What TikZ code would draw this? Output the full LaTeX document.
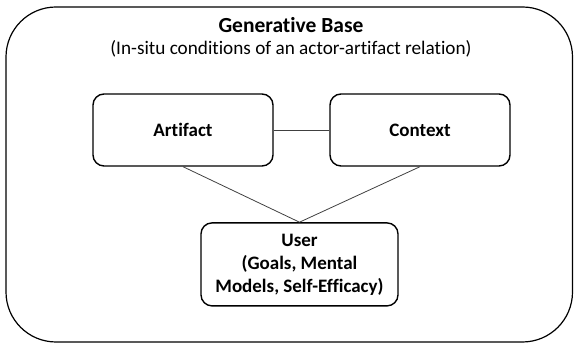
\documentclass[tikz,border=0pt]{standalone}
\usepackage{fontspec}
\setmainfont{Carlito}[Ligatures={NoCommon,NoRequired,NoContextual}]
\usetikzlibrary{calc}

\begin{document}
\begin{tikzpicture}[x=1pt,y=1pt,
    box/.style={draw,rounded corners=11pt,line width=1.4pt,align=center,font=\fontsize{19}{23}\selectfont\bfseries},
    link/.style={draw=black!75,line width=0.8pt}]
              \useasboundingbox (0,0) rectangle (574,344);
              \draw[rounded corners=50pt,line width=1.2pt] (6,2) rectangle (572.5,337);
              \node(title)at(291,319){\fontsize{21.5}{25}\selectfont\bfseries Generative Base};
              \node(sub)at(291,295){\fontsize{19.2}{23}\selectfont (In-situ conditions of an actor-artifact relation)};
              \node[box,minimum width=180pt,minimum height=72pt](artifact)at(183,214){Artifact};
              \node[box,minimum width=180pt,minimum height=72pt](context)at(420,214){Context};
              \node[box,minimum width=197pt,minimum height=83pt,inner sep=2pt](user)at(299.5,79.6){User\\(Goals, Mental\\Models, Self-Efficacy)};
              \draw[link] (artifact)--(context);
              \draw[link] (artifact.south)--(user.north);
              \draw[link] (context.south)--(user.north);
            \end{tikzpicture}
\end{document}
